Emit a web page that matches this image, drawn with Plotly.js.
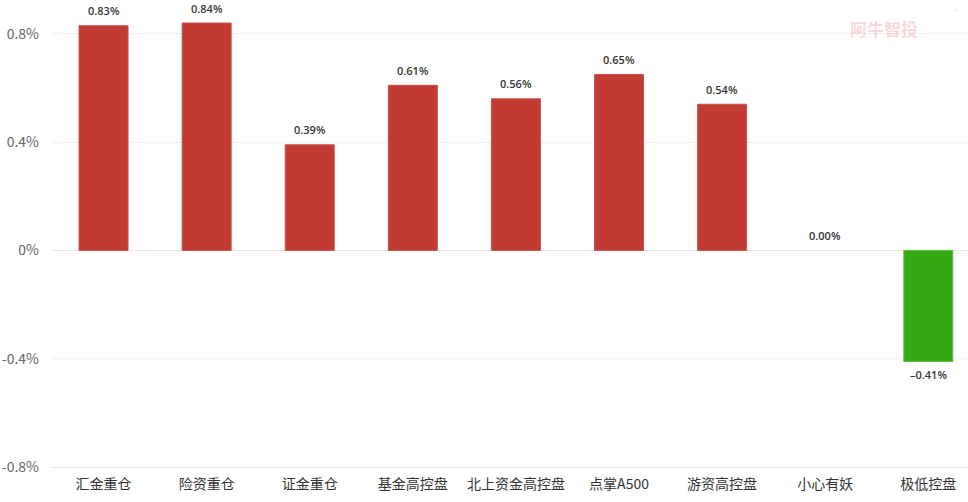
<!DOCTYPE html>
<html><head><meta charset="utf-8">
<script src="https://cdn.plot.ly/plotly-3.0.1.min.js"></script>
<style>html,body{margin:0;padding:0;background:#fff;}#chart{width:968px;height:502px;}</style>
</head><body><div id="chart"></div>
<script>
const categories = ['汇金重仓','险资重仓','证金重仓','基金高控盘','北上资金高控盘','点掌A500','游资高控盘','小心有妖','极低控盘'];
const values = [0.83, 0.84, 0.39, 0.61, 0.56, 0.65, 0.54, 0.00, -0.41];
const yTickVals = [-0.8, -0.4, 0, 0.4, 0.8];
const yTickText = ['-0.8%', '-0.4%', '0%', '0.4%', '0.8%'];

const colors = values.map(v => v >= 0 ? '#C23B32' : '#34A915');
const lineColors = values.map(v => v >= 0 ? '#C9514A' : '#5CC23F');
const lineWidths = values.map(v => v === 0 ? 0 : 1);
const font = "'Microsoft YaHei','Noto Sans CJK SC', 'Noto Sans', sans-serif";
const xs = categories.map((c, i) => i);

const trace = {
  type: 'bar',
  x: xs,
  y: values,
  width: 0.475,
  marker: {color: colors, line: {color: lineColors, width: lineWidths}},
  hoverinfo: 'none'
};

const labelAnnotations = values.map((v, i) => ({
  x: xs[i], y: v, xref: 'x', yref: 'y',
  text: (v < 0 ? '\u2013' : '') + Math.abs(v).toFixed(2) + '%',
  showarrow: false, xanchor: 'center', yanchor: 'middle',
  yshift: v < 0 ? -13 : 15,
  font: {family: "'Open Sans', 'Noto Sans', sans-serif", size: 11, color: '#333', weight: 600}
}));

const layout = {
  width: 968, height: 502,
  margin: {l: 52, r: 0, t: 0, b: 35},
  paper_bgcolor: '#fff', plot_bgcolor: '#fff',
  showlegend: false,
  bargap: 0,
  xaxis: {
    range: [-0.5, 8.385],
    tickvals: xs,
    ticktext: categories,
    tickfont: {family: font, size: 14, color: '#333'},
    showgrid: false, zeroline: false,
    showline: true, linecolor: '#e6e6e6', linewidth: 1,
    ticks: '', ticklabelstandoff: 4,
    fixedrange: true
  },
  yaxis: {
    range: [-0.8, 0.925],
    tickvals: yTickVals,
    ticktext: yTickText,
    tickfont: {family: font, size: 14, color: '#666'},
    gridcolor: '#eeeeee', gridwidth: 1,
    zeroline: true, zerolinecolor: '#e8e8e8', zerolinewidth: 1,
    showline: false, ticks: '', ticklabelstandoff: 12,
    fixedrange: true
  },
  annotations: labelAnnotations.concat([{
    xref: 'paper', yref: 'paper',
    x: 0.908, y: 0.94, xanchor: 'center', yanchor: 'middle',
    text: '阿牛智投', showarrow: false,
    font: {family: font, size: 17, color: 'rgba(240,140,150,0.35)', weight: 700}
  }, {
    xref: 'paper', yref: 'paper',
    x: 0.988, y: 0.975, xanchor: 'center', yanchor: 'middle',
    text: '®', showarrow: false,
    font: {family: font, size: 7, color: 'rgba(240,140,150,0.35)'}
  }])
};

Plotly.newPlot('chart', [trace], layout, {displayModeBar: false, staticPlot: true});
</script></body></html>
